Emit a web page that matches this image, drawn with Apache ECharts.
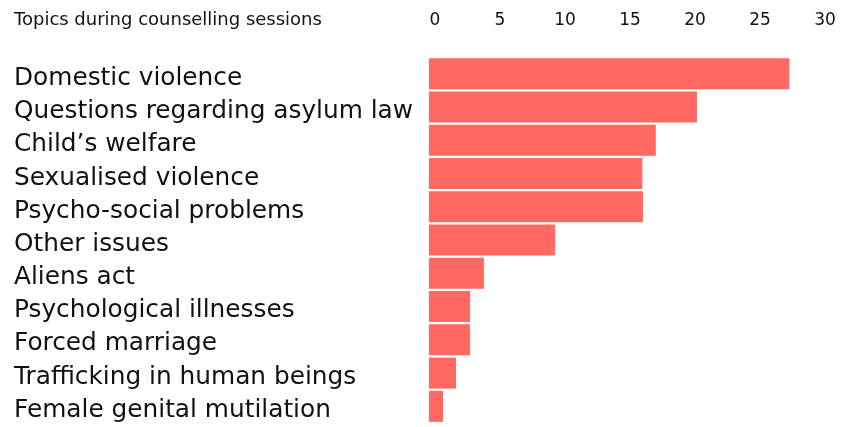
<!DOCTYPE html>
<html><head><meta charset="utf-8">
<script src="https://cdn.jsdelivr.net/npm/echarts@6/dist/echarts.min.js"></script>
<style>html,body{margin:0;padding:0;background:#fff}#c{width:841px;height:427px}</style>
</head><body><div id="c"></div>
<script>
const categories = ["Domestic violence","Questions regarding asylum law","Child’s welfare","Sexualised violence","Psycho-social problems","Other issues","Aliens act","Psychological illnesses","Forced marriage","Trafficking in human beings","Female genital mutilation"];
const values = [26.7, 19.85, 16.8, 15.8, 15.85, 9.35, 4.07, 3.04, 3.04, 2.0, 1.04];
const tickValues = [0, 5, 10, 15, 20, 25, 30];
const titleText = "Topics during counselling sessions";
const FONT = "DejaVu Sans";
const chart = echarts.init(document.getElementById('c'), null, {renderer: 'canvas'});
chart.setOption({
  animation: false,
  title: {text: titleText, left: 14, top: 11, padding: 0, textStyle: {fontFamily: FONT, fontSize: 18, fontWeight: 'normal', color: '#111'}},
  grid: [
    {left: 429, right: 7, top: 57, height: 366},
    {left: 435, right: 16, top: 30, height: 10},
    {left: 429, right: 7, top: 62, height: 366}
  ],
  xAxis: [
    {gridIndex: 0, type: 'value', min: 0, max: 30, show: false},
    {gridIndex: 1, type: 'value', position: 'top', min: tickValues[0], max: tickValues[tickValues.length-1], interval: 5,
     axisLine: {show: false}, axisTick: {show: false}, splitLine: {show: false},
     axisLabel: {margin: 1, fontFamily: FONT, fontSize: 17, color: '#111'}},
    {gridIndex: 2, type: 'value', min: 0, max: 30, show: false}
  ],
  yAxis: [
    {gridIndex: 0, type: 'category', data: categories, inverse: true, show: false},
    {gridIndex: 1, type: 'value', show: false},
    {gridIndex: 2, type: 'category', data: categories, inverse: true,
     axisLine: {show: false}, axisTick: {show: false},
     axisLabel: {align: 'left', margin: 415, fontFamily: FONT, fontSize: 24.8, color: '#111'}}
  ],
  series: [{type: 'bar', xAxisIndex: 0, yAxisIndex: 0, data: values, barWidth: 31,
    itemStyle: {color: '#ff6961'}}]
});
</script></body></html>
